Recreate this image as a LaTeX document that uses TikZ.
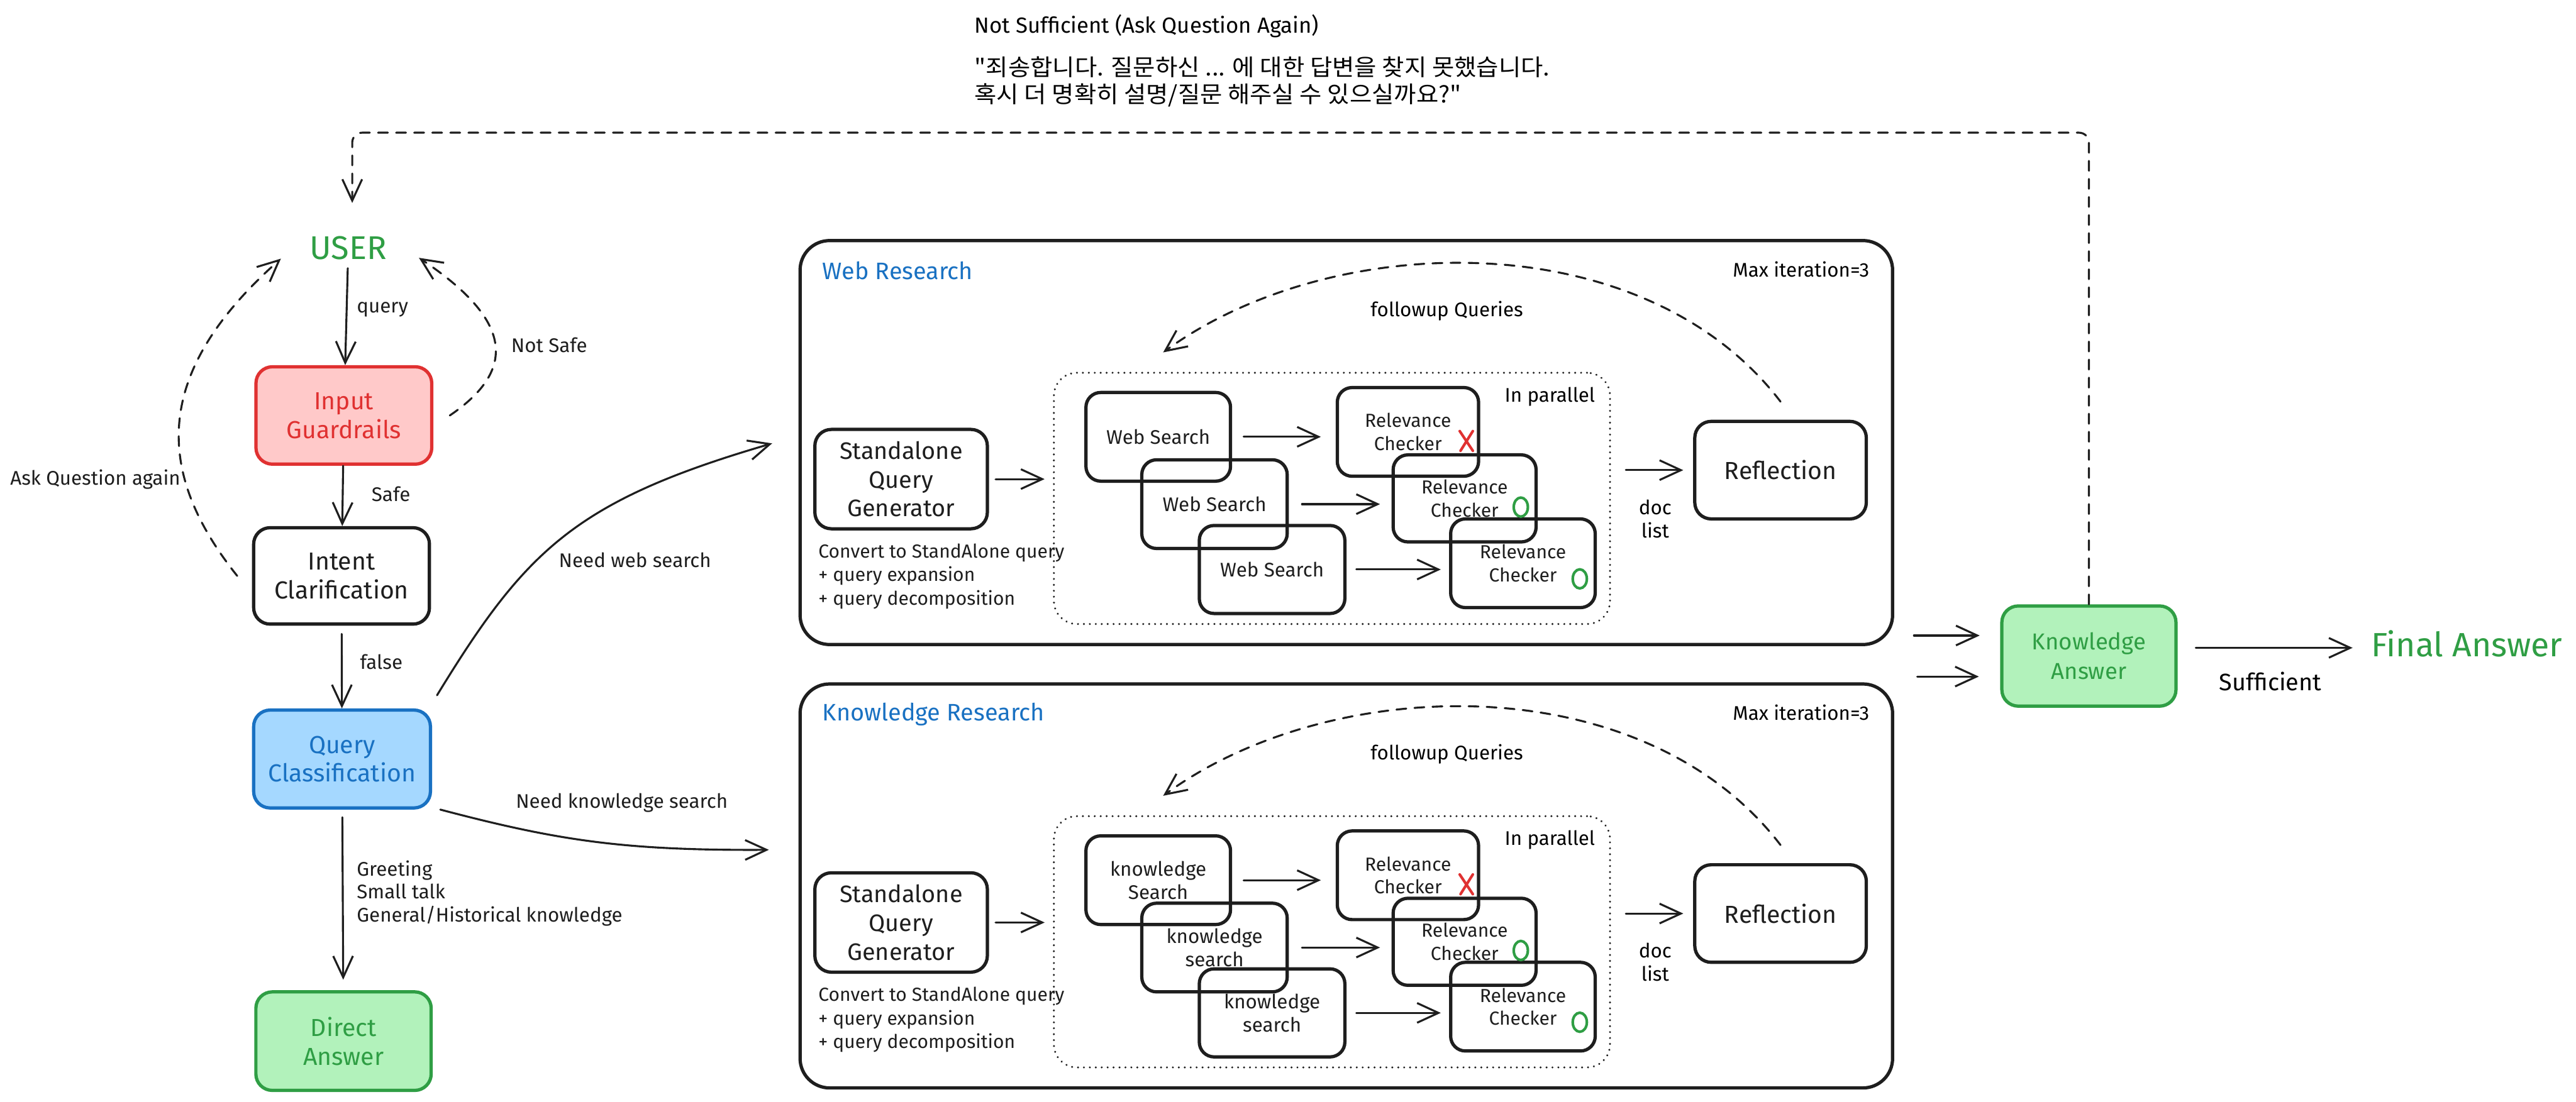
\documentclass[tikz,border=0pt]{standalone}
\usepackage{fontspec}
\setmainfont{Fira Sans}
\newfontfamily\krfont[FakeStretch=1.05]{Noto Sans CJK KR}
\usetikzlibrary{arrows.meta,calc}
\definecolor{ink}{HTML}{1E1E1E}
\definecolor{redline}{HTML}{E03131}
\definecolor{redfill}{HTML}{FFC9C9}
\definecolor{blueline}{HTML}{1971C2}
\definecolor{bluefill}{HTML}{A5D8FF}
\definecolor{greenline}{HTML}{2F9E44}
\definecolor{greenfill}{HTML}{B2F2BB}
\newcommand\FS[2]{\fontsize{#1}{#2}\selectfont}
\tikzset{
  arr/.style={-{Straight Barb[length=13pt,width=12pt,line width=1.2pt]}, line width=1.2pt, draw=ink, line cap=round},
  darr/.style={arr, dash pattern=on 6pt off 5pt},
  box/.style={draw=ink, line width=2pt, rounded corners=10pt, align=center, inner sep=0pt, text=ink},
  sbox/.style={box, rounded corners=9pt, font=\FS{12}{14}},
  dotbox/.style={draw=ink, line width=1.3pt, dash pattern=on 0.01pt off 3.6pt, line cap=round, rounded corners=14pt, inner sep=0pt},
  sz/.style 2 args={minimum width=#1pt, minimum height=#2pt},
  lab/.style={text=ink, font=\FS{12}{13.8}, inner sep=0pt, align=left},
  xmk/.style={draw=redline, line width=1.6pt, line cap=round},
  omk/.style={draw=greenline, line width=1.6pt},
}
\newcommand\ResearchBlock[6]{%
\begin{scope}[yshift=-#6pt]
\node[box, rounded corners=18pt, sz={665}{246}] (#1box) at (819.5,269.5) {};
\node[anchor=west, text=blueline, font=\FS{14.5}{17}, inner sep=0pt] (#1title) at (500.4,165) {#2};
\node[anchor=east, font=\FS{12}{14}, inner sep=0pt] (#1max) at (1138,164) {Max iteration=3};
\node[box, sz={105}{60.5}, font=\FS{14.5}{17.5}] (#1qg) at (548.5,291.75) {Standalone\\Query\\Generator};
\node[lab, anchor=west, font=\FS{11.5}{14.3}] (#1conv) at (498,351) {Convert to StandAlone query\\+ query expansion\\+ query decomposition};
\node[dotbox, sz={338.5}{153}] (#1par) at (810.75,303.5) {};
\node[anchor=west, font=\FS{12}{14}, inner sep=0pt] (#1inpar) at (915.7,241.5) {In parallel};
\node[sbox, sz={88}{54}] (#1s1) at (705,266) {#3};
\node[sbox, sz={88.5}{54}] (#1s2) at (739.25,307) {#4};
\node[sbox, sz={88.6}{53.6}] (#1s3) at (774.3,346.8) {#5};
\node[sbox, sz={86}{54}, font=\FS{11.5}{14}] (#1r1) at (857,263) {Relevance\\Checker};
\node[sbox, sz={87}{53}, font=\FS{11.5}{14}] (#1r2) at (891.5,303.5) {Relevance\\Checker};
\node[sbox, sz={88}{54}, font=\FS{11.5}{14}] (#1r3) at (927,343) {Relevance\\Checker};
\draw[xmk] ([shift={(31.5,-0.5)}]#1r1.center) -- ([shift={(39.5,11.5)}]#1r1.center);
\draw[xmk] ([shift={(39.5,-0.5)}]#1r1.center) -- ([shift={(32,11.5)}]#1r1.center);
\draw[omk] ([shift={(34.2,5.3)}]#1r2.center) ellipse [x radius=4.3pt, y radius=5.8pt];
\draw[omk] ([shift={(34.6,9.5)}]#1r3.center) ellipse [x radius=4.3pt, y radius=5.8pt];
\node[box, sz={104.4}{59.4}, font=\FS{15}{18}] (#1refl) at (1083.8,286.3) {Reflection};
\node[font=\FS{12}{14.2}, align=center, inner sep=0pt] (#1doc) at (1007.5,316) {doc\\list};
\draw[arr, shorten <=4pt, shorten >=5pt] (#1qg.east) -- (#1qg.east -| #1par.west);
\draw[arr, shorten <=7pt, shorten >=9pt] (#1s1.east) -- (#1s1.east -| #1r1.west);
\draw[arr, shorten <=8pt, shorten >=7pt] (#1s2.east) -- (#1s2.east -| #1r2.west);
\draw[arr, shorten <=6pt, shorten >=5pt] (#1s3.east) -- (#1s3.east -| #1r3.west);
\draw[arr, shorten <=9pt, shorten >=6pt] (#1par.east |- #1refl.west) -- (#1refl.west);
\coordinate (#1fuend) at (708,214.6);
\draw[darr] ([yshift=11pt]#1refl.north) .. controls (1000,135) and (810,140) .. (#1fuend);
\node[font=\FS{12}{14}, inner sep=0pt] (#1fu) at (880.7,189.4) {followup Queries};
\end{scope}}

\begin{document}
\begin{tikzpicture}[x=1pt,y=-1pt]
\useasboundingbox (0,0) rectangle (1568,671);
\fill[white] (0,0) rectangle (1568,671);

% top note
\node[anchor=west, font=\FS{13.3}{15}, inner sep=0pt] (ns) at (593,16) {Not Sufficient (Ask Question Again)};
\node[anchor=west, font=\krfont\FS{14}{16.4}, align=left, inner sep=0pt] (kr) at (593,49.8) {"죄송합니다. 질문하신 ... 에 대한 답변을 찾지 못했습니다.\\혹시 더 명확히 설명/질문 해주실 수 있으실까요?"};

% left column
\node[text=greenline, font=\FS{20}{24}, inner sep=1pt] (user) at (212,151) {USER};
\node[box, draw=redline, fill=redfill, text=redline, sz={107}{59.3}, font=\FS{15}{17.5}] (guard) at (209.3,253) {Input\\Guardrails};
\node[box, sz={107}{58.7}, font=\FS{15}{17.5}] (intent) at (207.9,350.7) {Intent\\Clarification};
\node[box, draw=blueline, fill=bluefill, text=blueline, sz={107.6}{59.6}, font=\FS{15}{17.5}] (qc) at (208.2,462.2) {Query\\Classification};
\node[box, draw=greenline, fill=greenfill, text=greenline, sz={106.7}{60}, font=\FS{15}{17.5}] (direct) at (209.1,634) {Direct\\Answer};

\draw[arr, shorten <=4pt] (user) -- (guard);
\draw[arr] (guard) -- (intent);
\draw[arr, shorten <=5pt] (intent) -- (qc);
\draw[arr, shorten <=4.7pt, shorten >=6.4pt] (qc) -- (direct);

\node[lab, anchor=west] (lquery) at (217,188.5) {query};
\node[lab, anchor=west] (lsafe) at (226,301) {Safe};
\node[lab, anchor=west] (lfalse) at (219,403) {false};
\node[lab, anchor=west] (lnotsafe) at (311,210) {Not Safe};
\node[lab] (lask) at (58,292) {Ask Question again};
\node[lab, anchor=west] (lcats) at (217,544) {Greeting\\Small talk\\General/Historical knowledge};

\coordinate (askend) at (171,157.5);
\draw[darr] ([xshift=-9pt]intent.west) .. controls (92,285) and (95,225) .. (askend);
\coordinate (nsend) at (255,157);
\draw[darr] ([xshift=10pt]guard.east) .. controls (315,225) and (312,195) .. (nsend);

% research blocks
\ResearchBlock{w}{Web Research}{Web Search}{Web Search}{Web Search}{0}
\ResearchBlock{k}{Knowledge Research}{knowledge\\Search}{knowledge\\search}{knowledge\\search}{270}

% routes from classification
\coordinate (webin) at (470,270);
\draw[arr] ([shift={(3,-8)}]qc.north east) .. controls (320,335) and (350,305) .. (webin);
\node[lab, anchor=west] (lweb) at (340,341) {Need web search};
\coordinate (knin) at (468,517.5);
\draw[arr] ([xshift=5pt]qc.south east) .. controls (340,512) and (380,518) .. (knin);
\node[lab, anchor=west] (lkn) at (313.8,489) {Need knowledge search};

% knowledge answer
\node[box, draw=greenline, fill=greenfill, text=greenline, sz={106}{61}, font=\FS{14}{17.8}] (ka) at (1271.5,399.5) {Knowledge\\Answer};
\draw[arr, shorten <=12pt, shorten >=12.5pt] (wbox.east |- 0,387) -- (ka.west |- 0,387);
\draw[arr, shorten <=14pt, shorten >=13pt] (kbox.east |- 0,412) -- (ka.west |- 0,412);
\node[text=greenline, font=\FS{20.5}{24}, anchor=west, inner sep=0pt] (final) at (1443,392) {Final Answer};
\draw[arr, shorten <=11pt, shorten >=11pt] (ka.east |- 0,394.5) -- (final.west |- 0,394.5);
\node[font=\FS{14.5}{17}, inner sep=0pt] (suff) at (1382,415) {Sufficient};

\coordinate (topy) at (0,80.8);
\coordinate (userin) at (214.4,123.6);
\draw[darr, rounded corners=6pt] (ka.north) -- (ka.north |- topy) -- (userin |- topy) -- (userin);
\end{tikzpicture}
\end{document}
